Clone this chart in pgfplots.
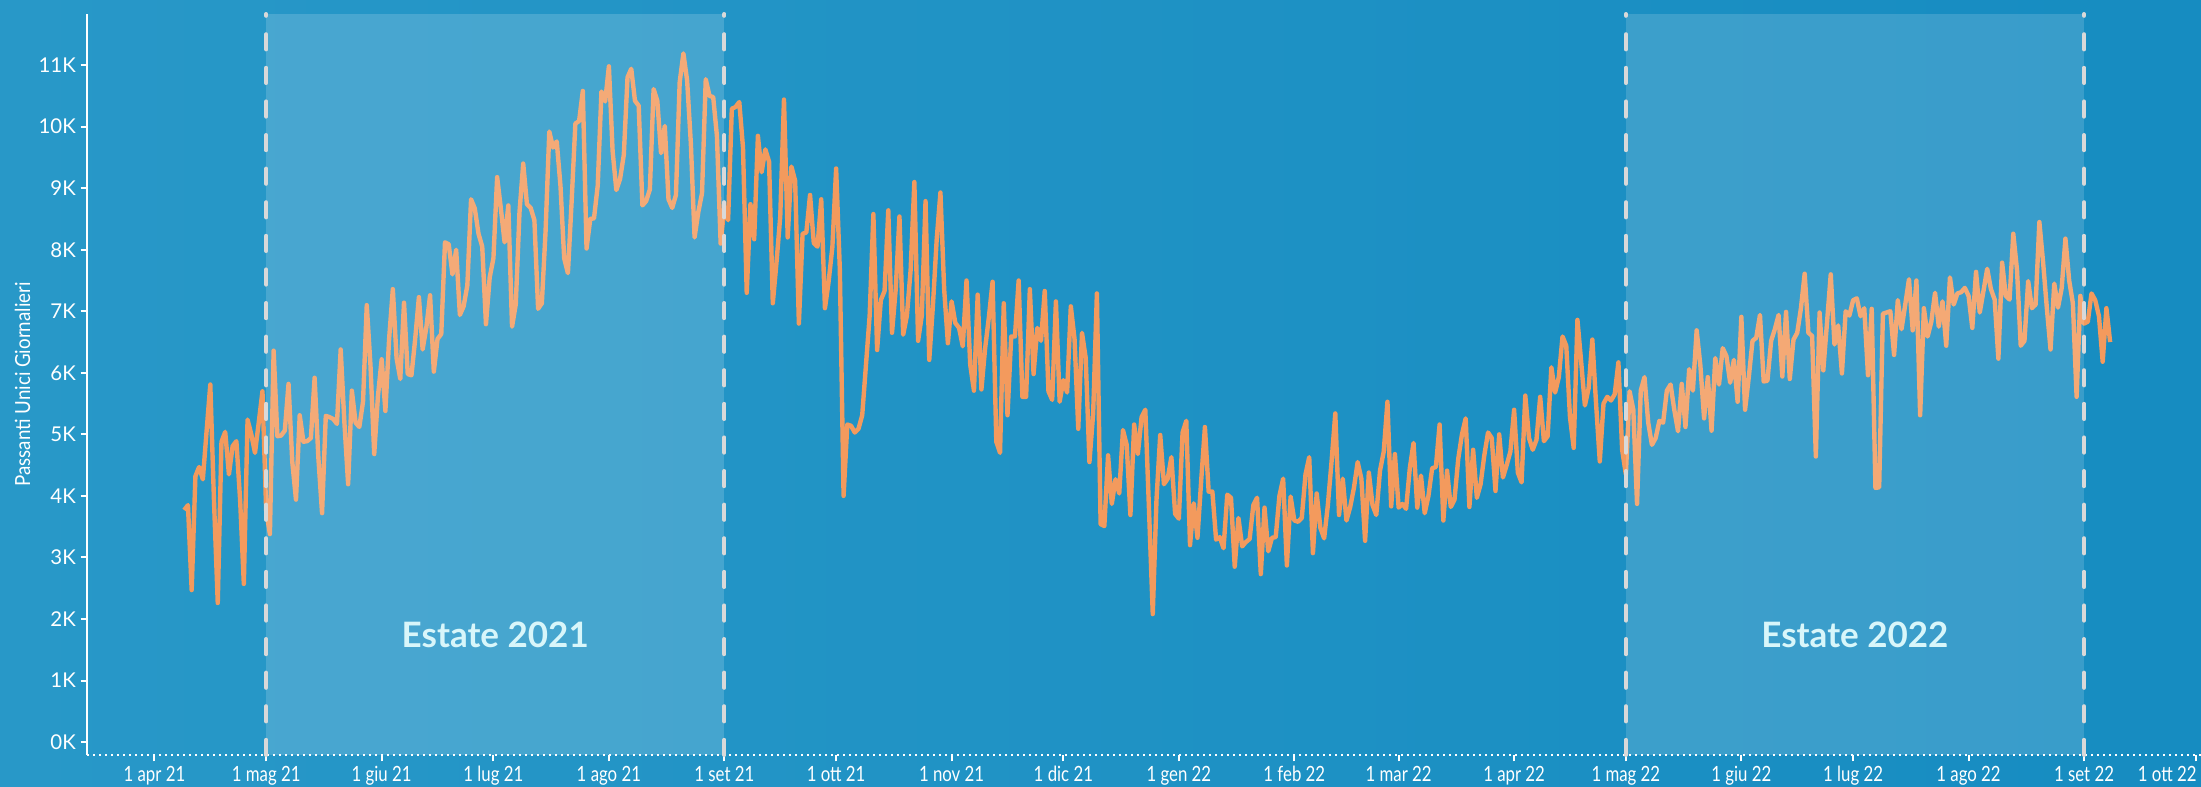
\documentclass[border=0pt]{standalone}
\usepackage{fontspec}
\setmainfont{Lato}
\newfontfamily\narrowfont[FakeStretch=0.8]{Lato}
\newfontfamily\labelfont[FakeStretch=0.9]{Lato}
\usepackage{pgfplots}
\usepackage{pgfplotstable}
\pgfplotsset{compat=1.18}
\definecolor{bgleft}{HTML}{2898C8}
\definecolor{bgright}{HTML}{168CC1}
\definecolor{linecol}{HTML}{F39A5D}
\definecolor{dashcol}{HTML}{D9D9D9}
\definecolor{labcol}{HTML}{D8F6FA}

% daily unique passers-by (thousands), x = days since 1 Apr 2021
\pgfplotstableread{
d v
8 3.77
9 3.85
10 2.47
11 4.32
12 4.47
13 4.27
14 5.05
15 5.81
16 3.90
17 2.26
18 4.88
19 5.04
20 4.35
21 4.81
22 4.89
23 3.94
24 2.57
25 5.24
26 5.00
27 4.70
28 5.19
29 5.70
30 3.76
31 3.38
32 6.36
33 4.97
34 4.98
35 5.06
36 5.82
37 4.56
38 3.94
39 5.31
40 4.88
41 4.89
42 4.94
43 5.92
44 4.63
45 3.72
46 5.30
47 5.28
48 5.25
49 5.17
50 6.38
51 5.19
52 4.19
53 5.71
54 5.19
55 5.12
56 5.53
57 7.10
58 6.12
59 4.68
60 5.62
61 6.22
62 5.38
63 6.55
64 7.36
65 6.24
66 5.90
67 7.14
68 5.98
69 5.96
70 6.55
71 7.23
72 6.38
73 6.74
74 7.26
75 6.02
76 6.55
77 6.63
78 8.12
79 8.09
80 7.60
81 8.00
82 6.94
83 7.08
84 7.42
85 8.82
86 8.67
87 8.26
88 8.05
89 6.79
90 7.55
91 7.86
92 9.18
93 8.67
94 8.12
95 8.72
96 6.75
97 7.11
98 8.61
99 9.40
100 8.74
101 8.68
102 8.48
103 7.04
104 7.13
105 8.30
106 9.92
107 9.66
108 9.76
109 9.04
110 7.86
111 7.62
112 8.79
113 10.05
114 10.09
115 10.58
116 8.02
117 8.50
118 8.51
119 9.04
120 10.57
121 10.41
122 10.98
123 9.60
124 8.97
125 9.15
126 9.54
127 10.80
128 10.94
129 10.42
130 10.34
131 8.72
132 8.79
133 8.98
134 10.61
135 10.42
136 9.57
137 10.01
138 8.82
139 8.68
140 8.89
141 10.72
142 11.19
143 10.75
144 9.73
145 8.20
146 8.61
147 8.92
148 10.77
149 10.50
150 10.48
151 9.85
152 8.10
153 8.70
154 8.48
155 10.29
156 10.32
157 10.40
158 9.66
159 7.30
160 8.74
161 8.17
162 9.85
163 9.26
164 9.63
165 9.43
166 7.13
167 7.80
168 8.54
169 10.44
170 8.20
171 9.35
172 9.12
173 6.80
174 8.26
175 8.28
176 8.89
177 8.11
178 8.05
179 8.82
180 7.05
181 7.49
182 8.05
183 9.32
184 7.67
185 4.00
186 5.16
187 5.14
188 5.03
189 5.09
190 5.31
191 6.12
192 6.93
193 8.58
194 6.37
195 7.18
196 7.33
197 8.64
198 6.65
199 7.36
200 8.54
201 6.62
202 6.93
203 7.67
204 9.10
205 6.52
206 6.93
207 8.79
208 6.21
209 7.11
210 8.17
211 8.93
212 7.36
213 6.48
214 7.16
215 6.81
216 6.73
217 6.43
218 7.50
219 6.13
220 5.71
221 7.27
222 5.73
223 6.40
224 6.90
225 7.48
226 4.88
227 4.70
228 7.13
229 5.31
230 6.59
231 6.59
232 7.50
233 5.61
234 5.61
235 7.36
236 5.98
237 6.73
238 6.52
239 7.33
240 5.70
241 5.56
242 7.16
243 5.53
244 5.88
245 5.68
246 7.08
247 6.55
248 5.09
249 6.65
250 6.24
251 4.55
252 5.34
253 7.29
254 3.54
255 3.51
256 4.66
257 3.87
258 4.27
259 4.04
260 5.07
261 4.83
262 3.69
263 5.16
264 4.68
265 5.28
266 5.40
267 3.76
268 2.08
269 3.94
270 4.99
271 4.19
272 4.28
273 4.63
274 3.71
275 3.63
276 5.03
277 5.22
278 3.20
279 3.88
280 3.32
281 4.25
282 5.12
283 4.07
284 4.07
285 3.29
286 3.33
287 3.15
288 4.02
289 3.97
290 2.85
291 3.64
292 3.18
293 3.25
294 3.30
295 3.85
296 3.97
297 2.73
298 3.81
299 3.10
300 3.32
301 3.33
302 4.00
303 4.28
304 2.87
305 3.99
306 3.60
307 3.58
308 3.64
309 4.35
310 4.63
311 3.07
312 4.04
313 3.48
314 3.31
315 3.85
316 4.56
317 5.34
318 3.69
319 4.28
320 3.60
321 3.82
322 4.13
323 4.55
324 4.28
325 3.27
326 4.38
327 3.85
328 3.69
329 4.41
330 4.72
331 5.53
332 3.83
333 4.68
334 3.81
335 3.87
336 3.79
337 4.45
338 4.86
339 3.81
340 4.33
341 3.72
342 4.00
343 4.45
344 4.47
345 5.16
346 3.60
347 4.41
348 3.82
349 3.94
350 4.60
351 5.00
352 5.26
353 3.82
354 4.75
355 3.97
356 4.19
357 4.66
358 5.03
359 4.94
360 4.08
361 5.00
362 4.30
363 4.50
364 4.72
365 5.40
366 4.38
367 4.22
368 5.63
369 4.94
370 4.75
371 4.91
372 5.61
373 4.89
374 4.97
375 6.09
376 5.68
377 5.93
378 6.59
379 6.44
380 5.28
381 4.78
382 6.86
383 6.18
384 5.47
385 5.75
386 6.54
387 5.50
388 4.56
389 5.50
390 5.61
391 5.55
392 5.65
393 6.17
394 4.75
395 4.35
396 5.70
397 5.40
398 3.87
399 5.71
400 5.93
401 5.19
402 4.83
403 4.94
404 5.22
405 5.19
406 5.71
407 5.81
408 5.40
409 5.05
410 5.82
411 5.12
412 6.06
413 5.71
414 6.69
415 6.12
416 5.26
417 5.93
418 5.06
419 6.24
420 5.81
421 6.40
422 6.27
423 5.84
424 6.21
425 5.53
426 6.91
427 5.40
428 5.93
429 6.52
430 6.57
431 6.94
432 5.86
433 5.87
434 6.52
435 6.71
436 6.94
437 5.94
438 6.99
439 5.90
440 6.54
441 6.65
442 7.05
443 7.61
444 6.65
445 6.60
446 4.64
447 6.98
448 6.04
449 6.82
450 7.60
451 6.46
452 6.77
453 5.99
454 7.00
455 6.93
456 7.18
457 7.21
458 6.92
459 7.05
460 5.96
461 7.04
462 4.13
463 4.14
464 6.96
465 6.98
466 7.00
467 6.29
468 7.18
469 6.71
470 7.11
471 7.52
472 6.69
473 7.50
474 5.31
475 7.05
476 6.59
477 6.83
478 7.30
479 6.75
480 7.16
481 6.44
482 7.55
483 7.11
484 7.29
485 7.31
486 7.38
487 7.25
488 6.73
489 7.64
490 6.98
491 7.33
492 7.69
493 7.36
494 7.19
495 6.23
496 7.79
497 7.25
498 7.19
499 8.26
500 7.67
501 6.44
502 6.52
503 7.49
504 7.05
505 7.11
506 8.45
507 7.80
508 7.06
509 6.38
510 7.45
511 7.06
512 7.38
513 8.18
514 7.50
515 7.13
516 5.61
517 7.25
518 6.80
519 6.83
520 7.29
521 7.18
522 6.92
523 6.18
524 7.05
525 6.50
}\passanti

\begin{document}
\begin{tikzpicture}
\shade[left color=bgleft, right color=bgright] (0,0) rectangle (550.25pt,196.5pt);
\begin{axis}[
  name=ax, at={(21.75pt,7.75pt)}, anchor=south west,
  scale only axis, width=528.5pt, height=185.25pt,
  xmin=-18.1, xmax=549.4, ymin=-0.21, ymax=11.83,
  axis lines=left, clip=false,
  x axis line style={-, white, line width=0.5pt, densely dotted},
  y axis line style={-, white, line width=0.5pt},
  tick align=outside, major tick length=1.6pt,
  tick style={white, line width=0.5pt},
  xtick={0,30,61,91,122,153,183,214,244,275,306,334,365,395,426,456,487,518},
  xticklabels={1 apr 21,1 mag 21,1 giu 21,1 lug 21,1 ago 21,1 set 21,1 ott 21,1 nov 21,1 dic 21,1 gen 22,1 feb 22,1 mar 22,1 apr 22,1 mag 22,1 giu 22,1 lug 22,1 ago 22,1 set 22},
  extra x ticks={548},
  extra x tick labels={1 ott 22},
  extra x tick style={xticklabel style={anchor=north east, xshift=1.4pt}},
  ytick={0,...,11},
  yticklabels={0K,1K,2K,3K,4K,5K,6K,7K,8K,9K,10K,11K},
  xticklabel style={font=\fontsize{5.25}{6}\narrowfont, text=white, inner sep=1pt},
  yticklabel style={font=\fontsize{5.1}{6}\selectfont, text=white, inner sep=1pt},
]
\addplot[linecol, line width=1.1pt, line join=round] table[x=d, y=v] {\passanti};
% summer periods
\fill[white, opacity=0.16] (axis cs:30,-0.21) rectangle (axis cs:153,11.83);
\fill[white, opacity=0.15] (axis cs:395,-0.21) rectangle (axis cs:518,11.83);
\pgfplotsinvokeforeach{30,153,395,518}{
  \draw[dashcol, line width=1pt, line cap=round, dash pattern=on 3.8pt off 4.6pt]
    (axis cs:#1,-0.21) -- (axis cs:#1,11.83);
}
\node[font=\fontsize{8.75}{10}\selectfont\bfseries, text=labcol] at (axis cs:91.5,1.75) {Estate 2021};
\node[font=\fontsize{8.75}{10}\selectfont\bfseries, text=labcol] at (axis cs:456.5,1.75) {Estate 2022};
\end{axis}
\node[rotate=90, font=\fontsize{5.2}{6}\labelfont, text=white] at ([xshift=-16.1pt]ax.west) {Passanti Unici Giornalieri};
\pgfresetboundingbox
\path[use as bounding box] (0,0) rectangle (550.25pt,196.5pt);
\end{tikzpicture}
\end{document}
